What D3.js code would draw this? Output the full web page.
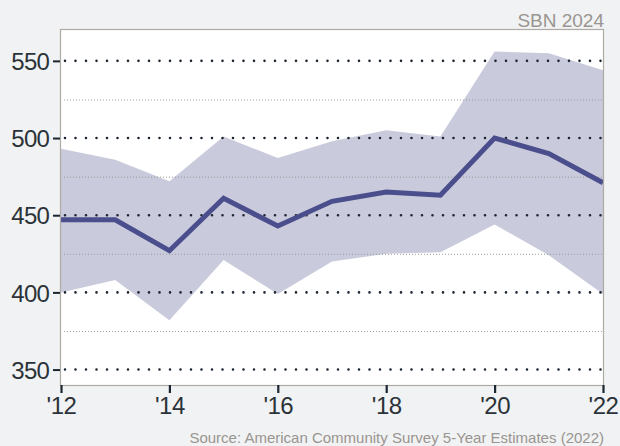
<!DOCTYPE html>
<html><head><meta charset="utf-8">
<script src="https://cdn.jsdelivr.net/npm/d3@7"></script>
<style>
html,body{margin:0;padding:0;background:#f1f2f3;}
svg{display:block;font-family:"Liberation Sans",Arial,sans-serif;}
</style></head>
<body><svg id="c" width="620" height="446"></svg>
<script>
const years = [2012,2013,2014,2015,2016,2017,2018,2019,2020,2021,2022];
const estimate = [447,447,427,461,443,459,465,463,500,490,471];
const upper = [493,486,472,501,487,498,505,501,556,555,544];
const lower = [400,408,382,421,399,420,425,426,444,424,399];
const yMajorTicks = [350,400,450,500,550];
const yMinorTicks = [375,425,475,525];
const xTicks = [2012,2014,2016,2018,2020,2022];

const svg = d3.select("#c");
const L = 61, R = 603, T = 30, B = 385;
const x = d3.scaleLinear().domain([2012,2022]).range([L,R]);
const y = d3.scaleLinear().domain([340,570]).range([B,T]);

svg.append("rect").attr("x",L).attr("y",T).attr("width",R-L).attr("height",B-T).attr("fill","#fff");

svg.append("path")
  .datum(years.map((d,i)=>({x:d,u:upper[i],l:lower[i]})))
  .attr("fill","#c9cadb")
  .attr("d", d3.area().x(d=>x(d.x)).y0(d=>y(d.l)).y1(d=>y(d.u)));

svg.append("g").selectAll("line").data(yMinorTicks).join("line")
  .attr("x1",L+3).attr("x2",R).attr("y1",d=>y(d)+0.5).attr("y2",d=>y(d)+0.5)
  .attr("stroke","#9a9a9a").attr("stroke-width",1).attr("stroke-dasharray","1,2");

svg.append("g").selectAll("line").data(yMajorTicks).join("line")
  .attr("x1",L+4).attr("x2",R).attr("y1",d=>y(d)).attr("y2",d=>y(d))
  .attr("stroke","#1c2630").attr("stroke-width",2.6).attr("stroke-linecap","round")
  .attr("stroke-dasharray","0,10.5");

svg.append("path")
  .datum(years.map((d,i)=>({x:d,v:estimate[i]})))
  .attr("fill","none").attr("stroke","#4a4e8c").attr("stroke-width",5)
  .attr("stroke-linejoin","miter")
  .attr("d", d3.line().x(d=>x(d.x)).y(d=>y(d.v)));

svg.append("rect").attr("x",L-0.5).attr("y",T-0.5).attr("width",R-L+1).attr("height",B-T+1)
  .attr("fill","none").attr("stroke","#aeaaa6").attr("stroke-width",1.2);

const yAxis = d3.axisLeft(y).tickValues(yMajorTicks).tickSize(7).tickPadding(4).tickFormat(d3.format("d"));
const gy = svg.append("g").attr("transform",`translate(${L-1},0)`).call(yAxis);
gy.select(".domain").remove();
gy.selectAll("line").attr("stroke","#1c2630").attr("stroke-width",2);
gy.selectAll("text").attr("font-size",24).attr("fill","#2b3238").attr("letter-spacing",-0.8).attr("dy","0.36em");

const xAxis = d3.axisBottom(x).tickValues(xTicks).tickSize(8).tickPadding(4).tickFormat(d=>"'"+String(d).slice(2));
const gx = svg.append("g").attr("transform",`translate(0,${B})`).call(xAxis);
gx.select(".domain").remove();
gx.selectAll("line").attr("stroke","#1c2630").attr("stroke-width",2.2);
gx.selectAll("text").attr("font-size",24).attr("fill","#2b3238").attr("letter-spacing",-0.5);

svg.append("text").attr("x",604).attr("y",27).attr("text-anchor","end")
  .attr("font-size",19).attr("fill","#999590").text("SBN 2024");
svg.append("text").attr("x",604).attr("y",443).attr("text-anchor","end")
  .attr("font-size",15).attr("fill","#999590").text("Source: American Community Survey 5-Year Estimates (2022)");
</script></body></html>
